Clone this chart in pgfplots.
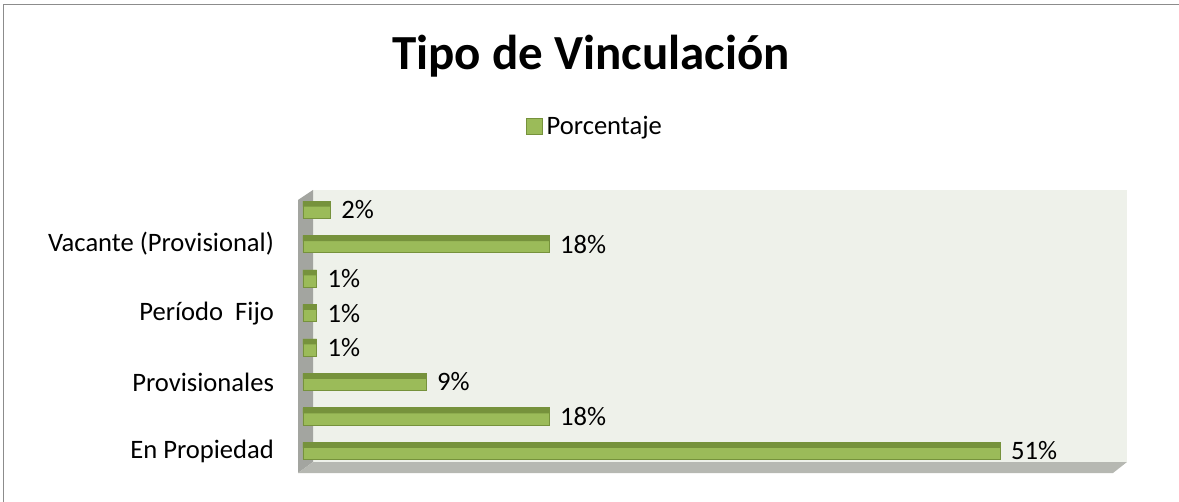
\documentclass[border=0pt]{standalone}
\usepackage{fontspec}
\setmainfont{Carlito}
\usepackage{pgfplots}
\pgfplotsset{compat=1.18}

\definecolor{barcol}{HTML}{9BBB59}
\definecolor{bardark}{HTML}{76923C}
\definecolor{wallc}{HTML}{EEF1EA}
\definecolor{sidec}{HTML}{A3A5A0}
\definecolor{floorc}{HTML}{B6B8B2}
\definecolor{framec}{HTML}{8C8C8C}

\begin{document}
\begin{tikzpicture}
% pixel grid of the reference: 1px = 0.5pt
\begin{scope}[x=0.5pt,y=-0.5pt]
  \path[use as bounding box] (0,0) rectangle (1179,502);
  \draw[framec, line width=0.8pt] (3.5,502) -- (3.5,4.5) -- (1179,4.5);
  % back wall, side wall, floor
  \fill[wallc] (313,190) rectangle (1127,462);
  \fill[sidec] (298,200) -- (313,190) -- (313,462) -- (298,473) -- cycle;
  \fill[floorc] (298,473) -- (313,462) -- (1127,462) -- (1113,473) -- cycle;
  \node[font=\bfseries\fontsize{24.5}{28}\selectfont, anchor=base] at (591,70) {Tipo de Vinculación};
\end{scope}

\begin{axis}[
  at={(151.5pt,-231pt)}, anchor=south west,
  scale only axis,
  width=410pt, height=136pt,
  xbar,
  xmin=0, xmax=60,
  ymin=-0.32, ymax=7.57,
  xtick=\empty,
  ytick={0,2,4,6},
  yticklabels={En Propiedad,Provisionales,Período~~Fijo,Vacante (Provisional)},
  major tick length=0pt,
  axis line style={draw=none},
  y tick label style={xshift=-11pt},
  tick label style={font=\fontsize{13.3}{16}\selectfont},
  clip=false,
  point meta=x,
  /pgf/number format/assume math mode=true,
  legend style={at={(0.357,1.232)}, anchor=center, draw=none, fill=none,
    font=\fontsize{13.3}{16}\selectfont},
  legend image code/.code={\draw[draw=bardark, fill=barcol, line width=0.5pt] (0pt,-4pt) rectangle (8pt,4pt);},
]
\addplot[bar width=0.5, bar shift=0, draw=bardark, line width=0.4pt, fill=barcol,
  nodes near coords={\pgfmathprintnumber{\pgfplotspointmeta}\%},
  nodes near coords style={anchor=west, xshift=2pt, font=\fontsize{13.3}{16}\selectfont, text=black}]
  coordinates {(51,0) (18,1) (9,2) (1,3) (1,4) (1,5) (18,6) (2,7)};
\addlegendentry{Porcentaje}
\addplot[bar width=0.16, bar shift=0.17, draw=none, fill=bardark, forget plot]
  coordinates {(51,0) (18,1) (9,2) (1,3) (1,4) (1,5) (18,6) (2,7)};
\end{axis}
\end{tikzpicture}
\end{document}
